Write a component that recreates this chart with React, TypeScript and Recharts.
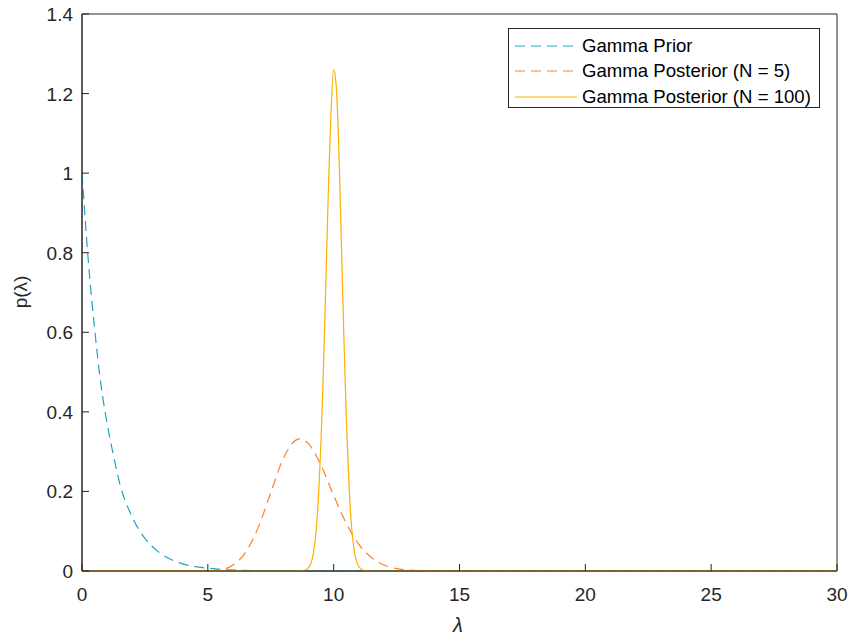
import React from 'react';
import { LineChart, Line, XAxis, YAxis, ReferenceArea } from 'recharts';

// Gamma prior
const priorX = [0, 0.25, 0.5, 0.75, 1, 1.25, 1.5, 2, 2.5, 3, 3.5, 4, 4.5, 5, 5.5, 6, 7, 8, 10, 15, 20, 25, 30];
const priorY = [1.0, 0.78, 0.61, 0.47, 0.37, 0.29, 0.22, 0.135, 0.082, 0.05, 0.03, 0.018, 0.011, 0.007, 0.004, 0.0025, 0.001, 0.0003, 0, 0, 0, 0, 0];

// Gamma posterior, N = 5
const post5X = [0, 4, 5, 5.5, 6, 6.5, 7, 7.5, 8, 8.5, 8.67, 9, 9.5, 10, 10.5, 11, 11.5, 12, 12.5, 13, 14, 15, 20, 25, 30];
const post5Y = [0, 0, 0.0005, 0.003, 0.015, 0.047, 0.109, 0.197, 0.283, 0.329, 0.332, 0.32, 0.265, 0.19, 0.12, 0.067, 0.034, 0.015, 0.006, 0.0024, 0.0003, 0, 0, 0, 0];

// Gamma posterior, N = 100
const post100X = [0, 8.6, 8.8, 9.0, 9.1, 9.2, 9.3, 9.4, 9.5, 9.6, 9.7, 9.8, 9.9, 10.0, 10.1, 10.2, 10.3, 10.4, 10.5, 10.6, 10.7, 10.8, 10.9, 11.0, 11.2, 11.4, 30];
const post100Y = [0, 0, 0.001, 0.008, 0.02, 0.046, 0.1, 0.19, 0.33, 0.52, 0.75, 0.98, 1.16, 1.26, 1.22, 1.07, 0.84, 0.6, 0.39, 0.23, 0.12, 0.058, 0.026, 0.011, 0.0015, 0, 0];

const xTicks = [0, 5, 10, 15, 20, 25, 30];
const yTicks = [0, 0.2, 0.4, 0.6, 0.8, 1, 1.2, 1.4];

const toRows = (xs: number[], ys: number[]) => xs.map((x, i) => ({ x, y: ys[i] }));

const series = [
  { name: 'Gamma Prior', color: '#1fa3c2', dash: '10 6', data: toRows(priorX, priorY) },
  { name: 'Gamma Posterior (N = 5)', color: '#ff7f2a', dash: '10 6', data: toRows(post5X, post5Y) },
  { name: 'Gamma Posterior (N = 100)', color: '#ffb000', dash: undefined, data: toRows(post100X, post100Y) },
];

const AXIS = '#262626';
const FONT = '"Liberation Sans", Arial, sans-serif';
const TICK = 7;

const BottomTick = (props: any) => {
  const { x, y, payload } = props;
  return (
    <g>
      <line x1={x} y1={y} x2={x} y2={y - TICK} stroke={AXIS} />
      <text x={x} y={y + 30} textAnchor="middle" fill={AXIS} fontSize={19} fontFamily={FONT}>
        {payload.value}
      </text>
    </g>
  );
};

const LeftTick = (props: any) => {
  const { x, y, payload } = props;
  return (
    <g>
      <line x1={x} y1={y} x2={x + TICK} y2={y} stroke={AXIS} />
      <text x={x - 9} y={y + 7} textAnchor="end" fill={AXIS} fontSize={19} fontFamily={FONT}>
        {payload.value}
      </text>
    </g>
  );
};

const TopTick = (props: any) => {
  const { x, y } = props;
  return <line x1={x} y1={y} x2={x} y2={y + TICK} stroke={AXIS} />;
};

const RightTick = (props: any) => {
  const { x, y } = props;
  return <line x1={x} y1={y} x2={x - TICK} y2={y} stroke={AXIS} />;
};

export default function App() {
  return (
    <div style={{ position: 'absolute', left: 0, top: 0, width: 850, height: 637, background: '#fff' }}>
      <LineChart width={850} height={637} margin={{ top: 14, right: 13, bottom: 26, left: 22 }}>
        <XAxis
          dataKey="x"
          type="number"
          domain={[0, 30]}
          ticks={xTicks}
          allowDuplicatedCategory={false}
          height={40}
          stroke={AXIS}
          tickSize={0}
          tickMargin={0}
          tick={<BottomTick />}
        />
        <XAxis
          xAxisId="top"
          orientation="top"
          type="number"
          domain={[0, 30]}
          ticks={xTicks}
          height={0}
          stroke={AXIS}
          tickSize={0}
          tickMargin={0}
          tick={<TopTick />}
        />
        <YAxis
          type="number"
          domain={[0, 1.4]}
          ticks={yTicks}
          width={60}
          stroke={AXIS}
          tickSize={0}
          tickMargin={0}
          tick={<LeftTick />}
        />
        <YAxis
          yAxisId="right"
          orientation="right"
          type="number"
          domain={[0, 1.4]}
          ticks={yTicks}
          width={0}
          stroke={AXIS}
          tickSize={0}
          tickMargin={0}
          tick={<RightTick />}
        />
        <ReferenceArea x1={0} x2={30} y1={0} y2={1.4} fill="none" stroke={AXIS} strokeWidth={1} />
        {series.map((s) => (
          <Line
            key={s.name}
            data={s.data}
            dataKey="y"
            name={s.name}
            type="monotone"
            stroke={s.color}
            strokeWidth={1.2}
            strokeDasharray={s.dash}
            dot={false}
            activeDot={false}
            isAnimationActive={false}
          />
        ))}
        <text x={458} y={632} textAnchor="middle" fontSize={20} fontStyle="italic" fontFamily={FONT} fill={AXIS}>
          λ
        </text>
        <text
          x={0}
          y={0}
          transform="translate(27,292) rotate(-90)"
          textAnchor="middle"
          fontSize={19}
          fontFamily={FONT}
          fill={AXIS}
        >
          p(λ)
        </text>
      </LineChart>
      <div
        style={{
          position: 'absolute',
          left: 508,
          top: 28,
          width: 312,
          height: 80,
          border: `1px solid ${AXIS}`,
          background: '#fff',
          boxSizing: 'border-box',
          fontFamily: FONT,
          fontSize: 18.6,
          color: '#000',
          paddingTop: 4,
        }}
      >
        {series.map((s) => (
          <div key={s.name} style={{ display: 'flex', alignItems: 'center', height: 25.5 }}>
            <svg width={73} height={10} style={{ flex: 'none' }}>
              <line x1={6} y1={5} x2={68} y2={5} stroke={s.color} strokeWidth={1.2} strokeDasharray={s.dash} />
            </svg>
            <span style={{ whiteSpace: 'nowrap' }}>{s.name}</span>
          </div>
        ))}
      </div>
    </div>
  );
}
